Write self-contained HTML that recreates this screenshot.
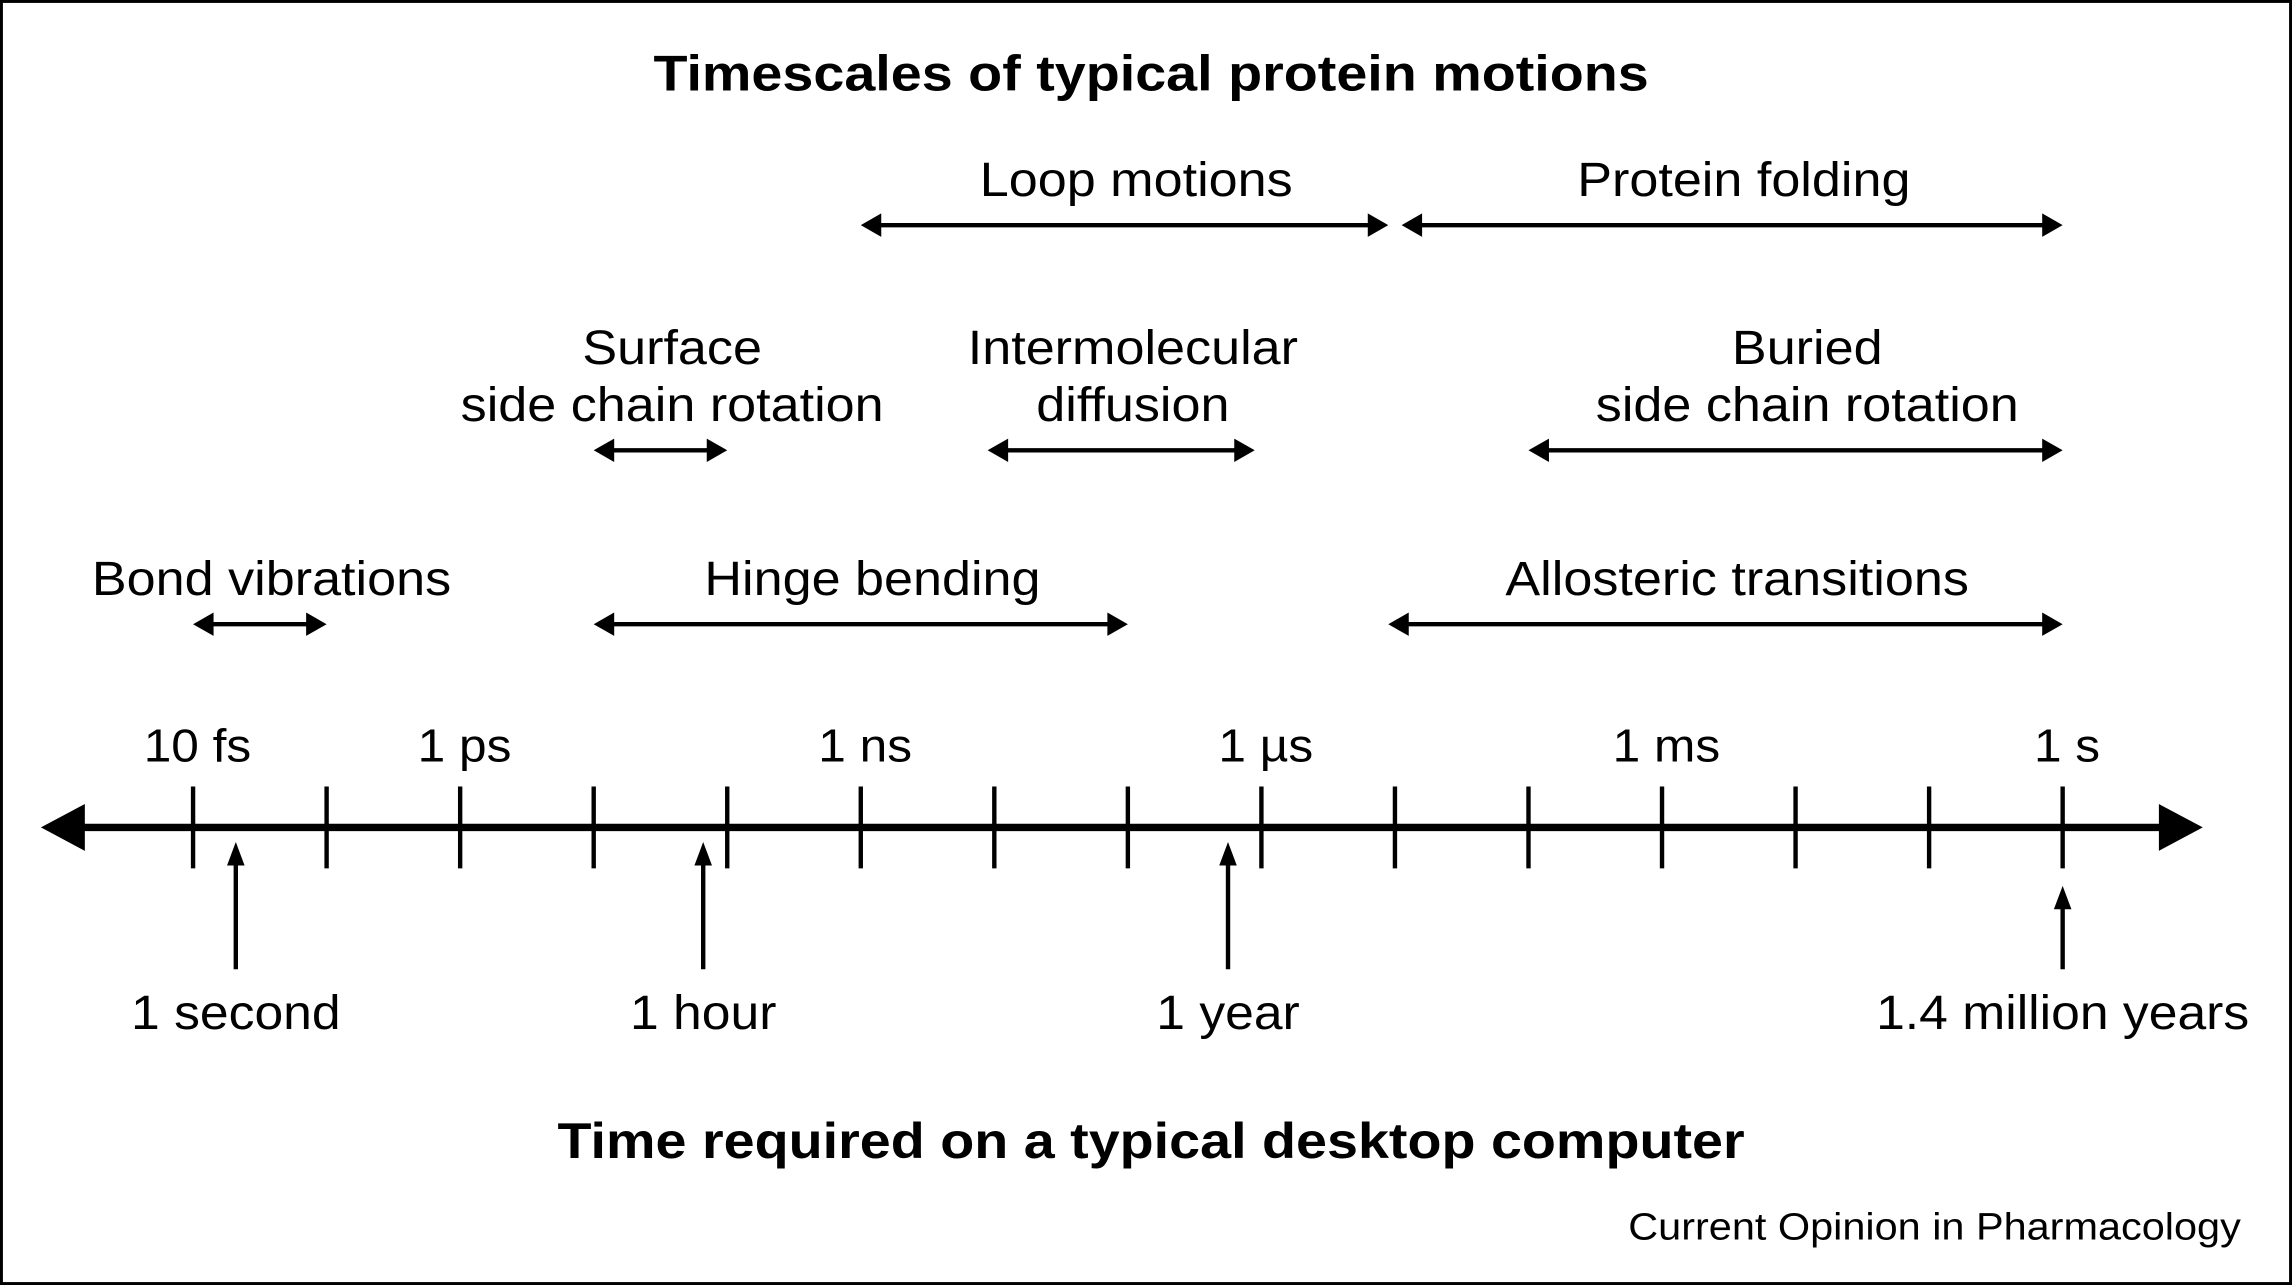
<!DOCTYPE html>
<html><head><meta charset="utf-8"><style>
html,body{margin:0;padding:0;background:#fff;}
svg{display:block;}
text{font-family:"Liberation Sans",sans-serif;fill:#000;}
</style></head><body>
<svg id="chart" width="2292" height="1285" viewBox="0 0 1567 879" preserveAspectRatio="none" xmlns="http://www.w3.org/2000/svg">
<rect x="1" y="1" width="1565" height="877" fill="none" stroke="#000" stroke-width="2"/>
<text data-stretch="1.12" x="787" y="62" font-size="34" font-weight="bold" text-anchor="middle">Timescales of typical protein motions</text>
<text data-stretch="1.12" x="787" y="792" font-size="34" font-weight="bold" text-anchor="middle">Time required on a typical desktop computer</text>
<text data-stretch="1.09" x="1532" y="848" font-size="26" text-anchor="end">Current Opinion in Pharmacology</text>
<g id="axis"></g>
<g id="motions"></g>
<g id="compute"></g>
</svg>
<script>
// log10(seconds) domain
const tickValues = [-14,-13,-12,-11,-10,-9,-8,-7,-6,-5,-4,-3,-2,-1,0];
const tickLabelValues = [-14,-12,-9,-6,-3,0];
const tickLabels = ["10 fs","1 ps","1 ns","1 µs","1 ms","1 s"];
const motionNames = [["Bond vibrations"],["Hinge bending"],["Allosteric transitions"],["Surface","side chain rotation"],["Intermolecular","diffusion"],["Buried","side chain rotation"],["Loop motions"],["Protein folding"]];
const motionStart = [-14,-11,-5.05,-11,-8.05,-4,-9,-4.95];
const motionEnd = [-13,-7,0,-10,-6.05,0,-5.05,0];
const motionRow = [0,0,0,1,1,1,2,2];
const computeLabels = ["1 second","1 hour","1 year","1.4 million years"];
const computeValues = [-13.68,-10.18,-6.25,0];

const NS="http://www.w3.org/2000/svg";
const x = v => 132 + (v + 14) * 91.3;
const rowY = r => [427,308,154][r];
function mk(tag, attrs, parent){const e=document.createElementNS(NS,tag);for(const k in attrs)e.setAttribute(k,attrs[k]);parent.appendChild(e);return e;}
function arrowHead(g, tx, ty, dir, len, half){
  let pts;
  if(dir==='up') pts=`${tx},${ty} ${tx-half},${ty+len} ${tx+half},${ty+len}`;
  else pts=`${tx},${ty} ${tx-dir*len},${ty-half} ${tx-dir*len},${ty+half}`;
  return mk('polygon',{points:pts,fill:'#000'},g);
}
const axis=document.getElementById('axis');
const line=mk('line',{x1:50,y1:566,x2:1485,y2:566,stroke:'#000','stroke-width':5},axis);


const la=arrowHead(axis,28,566,-1,30,16);


const ra=arrowHead(axis,1506,566,1,30,16);


tickValues.forEach(v=>{
  const t=mk('line',{x1:x(v),y1:538,x2:x(v),y2:594,stroke:'#000','stroke-width':3},axis);
  
  
});
tickLabelValues.forEach((v,i)=>{
  const t=mk('text',{x:x(v)+3,y:521,'font-size':32,'text-anchor':'middle','data-stretch':'1.06'},axis);
  t.textContent=tickLabels[i];
  
  
});
const motions=document.getElementById('motions');
motionNames.forEach((lines,i)=>{
  const g=mk('g',{},motions);
  
  
  const x1=x(motionStart[i]), x2=x(motionEnd[i]), y=rowY(motionRow[i]);
  mk('line',{x1:x1+10,y1:y,x2:x2-10,y2:y,stroke:'#000','stroke-width':3},g);
  arrowHead(g,x1,y,-1,14,8);
  arrowHead(g,x2,y,1,14,8);
  const cx=(x1+x2)/2+8;
  lines.forEach((s,j)=>{
    const t=mk('text',{x:cx,y:y-20-(lines.length-1-j)*39,'font-size':33,'text-anchor':'middle','data-stretch':'1.08'},g);
    t.textContent=s;
    
    
  });
});
const compute=document.getElementById('compute');
computeValues.forEach((v,i)=>{
  const g=mk('g',{},compute);
  
  
  const cx=x(v);
  const top = v===0 ? 606 : 576;
  mk('line',{x1:cx,y1:top+12,x2:cx,y2:663,stroke:'#000','stroke-width':3},g);
  arrowHead(g,cx,top,'up',16,6);
  const t=mk('text',{x:cx,y:704,'font-size':33,'text-anchor':'middle','data-stretch':'1.07'},g);
  t.textContent=computeLabels[i];
  
  
});
document.querySelectorAll('text[data-stretch]').forEach(t=>{
  const f=parseFloat(t.getAttribute('data-stretch'));
  const w=t.getComputedTextLength();
  if(w>0){t.setAttribute('textLength',(w*f).toFixed(1));t.setAttribute('lengthAdjust','spacingAndGlyphs');}
});
</script>
</body></html>
